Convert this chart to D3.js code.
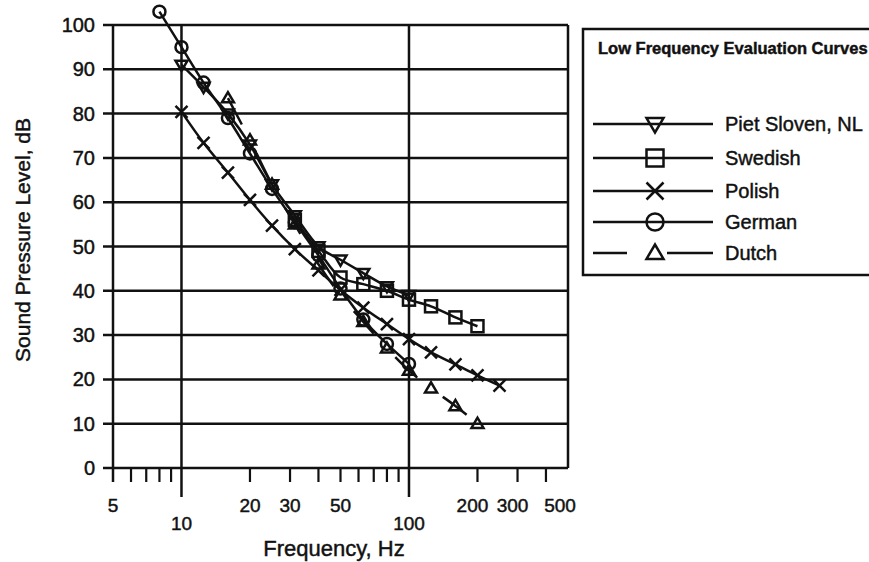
<!DOCTYPE html>
<html>
<head>
<meta charset="utf-8">
<script src="https://cdn.jsdelivr.net/npm/d3@7"></script>
<style>
  body { margin: 0; background: #fff; }
  text { font-family: Arial, "Liberation Sans", sans-serif; fill: #111; stroke: #111; stroke-width: 0.45px; }
</style>
</head>
<body>
<div id="vis"></div>
<script>
const width = 869;
const height = 562;

// values (Hz, dB)
const pietFreq   = [10, 12.5, 16, 20, 25, 31.5, 40, 50, 63, 80, 100];
const pietLevel  = [91, 86, 80, 73, 64, 57, 50, 47, 44, 41, 39];
const swedFreq   = [31.5, 40, 50, 63, 80, 100, 125, 160, 200];
const swedLevel  = [56, 49, 43, 41.5, 40, 38, 36.5, 34, 32];
const polFreq    = [10, 12.5, 16, 20, 25, 31.5, 40, 50, 63, 80, 100, 125, 160, 200, 250];
const polLevel   = [80.4, 73.4, 66.7, 60.5, 54.7, 49.4, 44.6, 40.2, 36.2, 32.5, 29.1, 26.1, 23.4, 20.9, 18.6];
const gerFreq    = [8, 10, 12.5, 16, 20, 25, 31.5, 40, 50, 63, 80, 100];
const gerLevel   = [103, 95, 87, 79, 71, 63, 55.5, 48, 40.5, 33.5, 28, 23.5];
const dutchFreq  = [16, 20, 25, 31.5, 40, 50, 63, 80, 100, 125, 160, 200];
const dutchLevel = [83.5, 74, 64, 55, 46, 39, 33, 27, 22, 18, 14, 10];

const seriesNames = ["Piet Sloven, NL", "Swedish", "Polish", "German", "Dutch"];
const seriesSymbols = ["down", "square", "cross", "circle", "up"];

const yTicks = [0, 10, 20, 30, 40, 50, 60, 70, 80, 90, 100];
const gridFreqs = [5, 10, 100, 500];
const minorFreqs = [6, 7, 8, 9, 20, 30, 40, 50, 60, 70, 80, 90, 200, 300, 400];
const longFreqs = [10, 100];
const labelFreqs = [5, 10, 20, 30, 50, 100, 200, 300, 500];

const series = [
  { freq: pietFreq, level: pietLevel },
  { freq: swedFreq, level: swedLevel },
  { freq: polFreq, level: polLevel },
  { freq: gerFreq, level: gerLevel },
  { freq: dutchFreq, level: dutchLevel }
].map((s, i) => ({
  name: seriesNames[i],
  symbol: seriesSymbols[i],
  points: s.freq.map((f, j) => ({ f: f, v: s.level[j] }))
}));

const svg = d3.select("#vis").append("svg")
  .attr("width", width)
  .attr("height", height);

svg.append("rect").attr("width", width).attr("height", height).attr("fill", "#fff");

const x = d3.scaleLog().domain([5, 500]).range([113, 568]);
const y = d3.scaleLinear().domain([0, 100]).range([468, 25]);

// grid
svg.append("g").selectAll("line")
  .data(yTicks).enter().append("line")
  .attr("x1", 103).attr("x2", x(500))
  .attr("y1", d => y(d)).attr("y2", d => y(d))
  .attr("stroke", "#111").attr("stroke-width", 2.5);

svg.append("g").selectAll("line")
  .data(gridFreqs).enter().append("line")
  .attr("x1", d => x(d)).attr("x2", d => x(d))
  .attr("y1", y(100))
  .attr("y2", d => longFreqs.includes(d) ? 497 : (d === 5 ? 482 : y(0)))
  .attr("stroke", "#111").attr("stroke-width", 2.5);

svg.append("g").selectAll("line")
  .data(minorFreqs).enter().append("line")
  .attr("x1", d => x(d)).attr("x2", d => x(d))
  .attr("y1", y(0)).attr("y2", 482)
  .attr("stroke", "#111").attr("stroke-width", 2.2);

// tick labels
svg.append("g").selectAll("text")
  .data(yTicks).enter().append("text")
  .attr("x", 95).attr("y", d => y(d) + 7)
  .attr("text-anchor", "end")
  .style("font-size", "20px")
  .text(d => d);

svg.append("g").selectAll("text")
  .data(labelFreqs).enter().append("text")
  .attr("x", d => x(d) - (d > 100 ? 5 : 0) - (d === 500 ? 3 : 0))
  .attr("y", d => longFreqs.includes(d) ? 530 : 512)
  .attr("text-anchor", "middle")
  .style("font-size", "19px")
  .text(d => d);

svg.append("text")
  .attr("x", 334).attr("y", 556)
  .attr("text-anchor", "middle")
  .style("font-size", "22px")
  .text("Frequency, Hz");

svg.append("text")
  .attr("transform", "translate(30,240) rotate(-90)")
  .attr("text-anchor", "middle")
  .style("font-size", "21px")
  .text("Sound Pressure Level, dB");

// markers
function drawSymbol(g, type, cx, cy, s) {
  const r = s / 2;
  if (type === "square") {
    g.append("rect").attr("x", cx - r).attr("y", cy - r).attr("width", s).attr("height", s);
  } else if (type === "circle") {
    g.append("circle").attr("cx", cx).attr("cy", cy).attr("r", r);
  } else if (type === "cross") {
    g.append("path").attr("d", `M${cx - r},${cy - r}L${cx + r},${cy + r}M${cx - r},${cy + r}L${cx + r},${cy - r}`);
  } else if (type === "down") {
    g.append("path").attr("d", `M${cx - r},${cy - r * 0.7}L${cx + r},${cy - r * 0.7}L${cx},${cy + r}Z`);
  } else if (type === "up") {
    g.append("path").attr("d", `M${cx - r},${cy + r * 0.7}L${cx + r},${cy + r * 0.7}L${cx},${cy - r}Z`);
  }
}

const line = d3.line()
  .x(d => x(d.f))
  .y(d => y(d.v))
  .curve(d3.curveMonotoneX);

series.forEach(s => {
  svg.append("path")
    .datum(s.points)
    .attr("d", line)
    .attr("fill", "none")
    .attr("stroke", "#111")
    .attr("stroke-width", 2.5)
    .attr("stroke-dasharray", s.name === "Dutch" ? "30,32" : null);

  const g = svg.append("g")
    .attr("fill", "none").attr("stroke", "#111").attr("stroke-width", 2.5);
  s.points.forEach(p => drawSymbol(g, s.symbol, x(p.f), y(p.v), 12));
});

// legend
const legend = svg.append("g");
legend.append("rect")
  .attr("x", 583).attr("y", 29).attr("width", 320).attr("height", 246)
  .attr("fill", "#fff").attr("stroke", "#111").attr("stroke-width", 2.5);

legend.append("text")
  .attr("x", 598).attr("y", 54)
  .style("font-size", "16.5px").style("font-weight", "bold")
  .text("Low Frequency Evaluation Curves");

const legendRows = [124, 158, 191, 222, 253];
series.forEach((s, i) => {
  const ly = legendRows[i];
  if (s.name === "Dutch") {
    legend.append("line").attr("x1", 593).attr("x2", 627).attr("y1", ly).attr("y2", ly)
      .attr("stroke", "#111").attr("stroke-width", 2.5);
    legend.append("line").attr("x1", 667).attr("x2", 713).attr("y1", ly).attr("y2", ly)
      .attr("stroke", "#111").attr("stroke-width", 2.5);
  } else {
    legend.append("line").attr("x1", 593).attr("x2", 713).attr("y1", ly).attr("y2", ly)
      .attr("stroke", "#111").attr("stroke-width", 2.5);
  }
  const g = legend.append("g")
    .attr("fill", "none").attr("stroke", "#111").attr("stroke-width", 2.5);
  drawSymbol(g, s.symbol, 655, ly, 17);
  legend.append("text")
    .attr("x", 725).attr("y", ly + 7)
    .style("font-size", "20px")
    .text(s.name);
});
</script>
</body>
</html>
